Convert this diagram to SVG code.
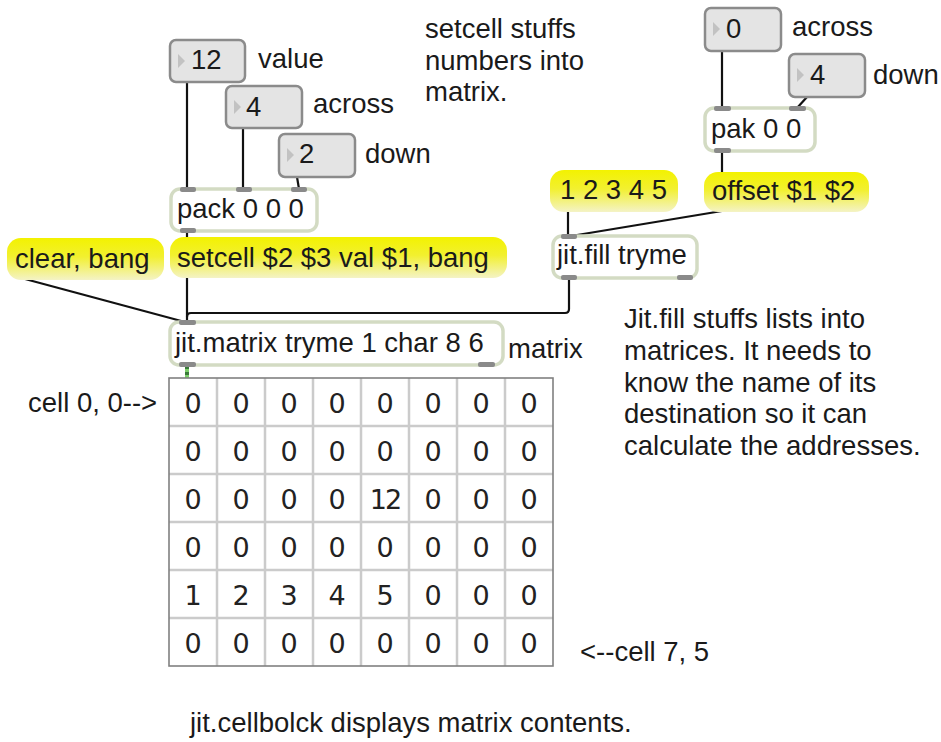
<svg xmlns="http://www.w3.org/2000/svg" width="941" height="742" viewBox="0 0 941 742">
  <defs>
    <linearGradient id="msgFill" x1="0" y1="0" x2="0" y2="1">
      <stop offset="0" stop-color="#f3f200"/>
      <stop offset="0.45" stop-color="#f2f030"/>
      <stop offset="1" stop-color="#f4f3c6"/>
    </linearGradient>
    <pattern id="jitCable" width="4" height="6" patternUnits="userSpaceOnUse">
      <rect width="4" height="6" fill="#3a7a3a"/>
      <rect y="3" width="4" height="3" fill="#7ccf6a"/>
    </pattern>
  </defs>
  <style>
    text { font-family: "Liberation Sans", Arial, sans-serif; font-size: 27.5px; fill: #1a1a1a; }
    .obj { fill: #ffffff; stroke: #d3dbc3; stroke-width: 3.5; }
    .num { fill: #e4e4e4; stroke: #8b8b8b; stroke-width: 2.5; }
    .tri { fill: #c2c2c2; }
    .msg { fill: url(#msgFill); }
    .tab { fill: #8a8a8a; }
    .cord { fill: none; stroke: #111111; stroke-width: 2.2; }
    .grid { stroke: #cbcbcb; stroke-width: 2.5; }
    .cell { font-family: "DejaVu Sans", Verdana, sans-serif; font-size: 27px; fill: #222222; text-anchor: middle; }
  </style>

  <rect width="941" height="742" fill="#ffffff"/>

  <!-- patch cords -->
  <g id="connectors">
    <line class="cord" x1="187" y1="82" x2="187" y2="189"/>
    <line class="cord" x1="243" y1="128" x2="243" y2="189"/>
    <line class="cord" x1="297" y1="177" x2="299" y2="189"/>
    <line class="cord" x1="187" y1="231" x2="187" y2="238"/>
    <line class="cord" x1="187" y1="277" x2="187" y2="323"/>
    <line class="cord" x1="25" y1="279" x2="185" y2="322"/>
    <path class="cord" d="M569 278 V309 Q569 313 565 313 H191 Q187 313 187 317"/>
    <line class="cord" x1="722" y1="51" x2="722" y2="108"/>
    <line class="cord" x1="807" y1="97" x2="797" y2="108"/>
    <line class="cord" x1="722" y1="151" x2="722" y2="173"/>
    <line class="cord" x1="568" y1="212" x2="568" y2="236"/>
    <line class="cord" x1="722" y1="211" x2="571" y2="236"/>
    <rect x="185" y="365" width="4" height="13" fill="url(#jitCable)"/>
  </g>

  <!-- number boxes, left column -->
  <g id="num-value">
    <rect class="num" x="170" y="40" width="75" height="42" rx="6"/>
    <polygon class="tri" points="178,54 185,61 178,68"/>
    <text x="191" y="69">12</text>
  </g>
  <g id="num-across">
    <rect class="num" x="226" y="86" width="76" height="42" rx="6"/>
    <polygon class="tri" points="234,100 241,107 234,114"/>
    <text x="246" y="116">4</text>
  </g>
  <g id="num-down">
    <rect class="num" x="279" y="134" width="76" height="43" rx="6"/>
    <polygon class="tri" points="287,148 294,155 287,162"/>
    <text x="299" y="163">2</text>
  </g>

  <!-- number boxes, right column -->
  <g id="num-offset-x">
    <rect class="num" x="705" y="8" width="76" height="43" rx="6"/>
    <polygon class="tri" points="713,22 720,29 713,36"/>
    <text x="726" y="38">0</text>
  </g>
  <g id="num-offset-y">
    <rect class="num" x="789" y="54" width="76" height="43" rx="6"/>
    <polygon class="tri" points="797,68 804,75 797,82"/>
    <text x="810" y="84">4</text>
  </g>

  <!-- pack 0 0 0 -->
  <g id="pack">
    <rect class="obj" x="171" y="189" width="146" height="42" rx="9"/>
    <rect class="tab" x="180" y="187" width="16" height="5" rx="2"/>
    <rect class="tab" x="236" y="187" width="16" height="5" rx="2"/>
    <rect class="tab" x="291" y="187" width="16" height="5" rx="2"/>
    <rect class="tab" x="180" y="228" width="16" height="5" rx="2"/>
    <text x="177" y="218">pack 0 0 0</text>
  </g>

  <!-- pak 0 0 -->
  <g id="pak">
    <rect class="obj" x="705" y="108" width="110" height="43" rx="9"/>
    <rect class="tab" x="714" y="106" width="17" height="5" rx="2"/>
    <rect class="tab" x="789" y="106" width="17" height="5" rx="2"/>
    <rect class="tab" x="714" y="148" width="17" height="5" rx="2"/>
    <text x="711" y="138">pak 0 0</text>
  </g>

  <!-- message boxes -->
  <g id="msg-clear">
    <rect class="msg" x="7" y="238" width="157" height="42" rx="14"/>
    <text x="15" y="268">clear, bang</text>
  </g>
  <g id="msg-setcell">
    <rect class="msg" x="170" y="237" width="337" height="41" rx="14"/>
    <text x="177" y="267">setcell $2 $3 val $1, bang</text>
  </g>
  <g id="msg-list">
    <rect class="msg" x="550" y="170" width="128" height="42" rx="14"/>
    <text x="560" y="199">1 2 3 4 5</text>
  </g>
  <g id="msg-offset">
    <rect class="msg" x="704" y="172" width="165" height="40" rx="14"/>
    <text x="712" y="200">offset $1 $2</text>
  </g>

  <!-- jit.fill tryme -->
  <g id="jit-fill">
    <rect class="obj" x="553" y="236" width="144" height="42" rx="9"/>
    <rect class="tab" x="561" y="234" width="16" height="5" rx="2"/>
    <rect class="tab" x="561" y="275" width="16" height="5" rx="2"/>
    <rect class="tab" x="677" y="275" width="16" height="5" rx="2"/>
    <text x="557" y="264">jit.fill tryme</text>
  </g>

  <!-- jit.matrix tryme 1 char 8 6 -->
  <g id="jit-matrix">
    <rect class="obj" x="170" y="322" width="333" height="43" rx="9"/>
    <rect class="tab" x="179" y="320" width="17" height="5" rx="2"/>
    <rect class="tab" x="179" y="362" width="17" height="5" rx="2"/>
    <rect class="tab" x="478" y="362" width="17" height="5" rx="2"/>
    <text x="175" y="352">jit.matrix tryme 1 char 8 6</text>
  </g>

  <!-- jit.cellblock: 8 columns x 6 rows -->
  <g id="cellblock">
    <rect x="169" y="378" width="384" height="288" fill="#ffffff"/>
    <g class="grid">
      <line x1="217" y1="378" x2="217" y2="666"/>
      <line x1="265" y1="378" x2="265" y2="666"/>
      <line x1="313" y1="378" x2="313" y2="666"/>
      <line x1="361" y1="378" x2="361" y2="666"/>
      <line x1="409" y1="378" x2="409" y2="666"/>
      <line x1="457" y1="378" x2="457" y2="666"/>
      <line x1="505" y1="378" x2="505" y2="666"/>
      <line x1="169" y1="426" x2="553" y2="426"/>
      <line x1="169" y1="474" x2="553" y2="474"/>
      <line x1="169" y1="522" x2="553" y2="522"/>
      <line x1="169" y1="570" x2="553" y2="570"/>
      <line x1="169" y1="618" x2="553" y2="618"/>
    </g>
    <rect x="169" y="378" width="384" height="288" fill="none" stroke="#808080" stroke-width="1.6"/>
    <g>
      <text class="cell" x="193" y="413">0</text><text class="cell" x="241" y="413">0</text><text class="cell" x="289" y="413">0</text><text class="cell" x="337" y="413">0</text><text class="cell" x="385" y="413">0</text><text class="cell" x="433" y="413">0</text><text class="cell" x="481" y="413">0</text><text class="cell" x="529" y="413">0</text>
      <text class="cell" x="193" y="461">0</text><text class="cell" x="241" y="461">0</text><text class="cell" x="289" y="461">0</text><text class="cell" x="337" y="461">0</text><text class="cell" x="385" y="461">0</text><text class="cell" x="433" y="461">0</text><text class="cell" x="481" y="461">0</text><text class="cell" x="529" y="461">0</text>
      <text class="cell" x="193" y="509">0</text><text class="cell" x="241" y="509">0</text><text class="cell" x="289" y="509">0</text><text class="cell" x="337" y="509">0</text><text class="cell" x="385" y="509" letter-spacing="-2">12</text><text class="cell" x="433" y="509">0</text><text class="cell" x="481" y="509">0</text><text class="cell" x="529" y="509">0</text>
      <text class="cell" x="193" y="557">0</text><text class="cell" x="241" y="557">0</text><text class="cell" x="289" y="557">0</text><text class="cell" x="337" y="557">0</text><text class="cell" x="385" y="557">0</text><text class="cell" x="433" y="557">0</text><text class="cell" x="481" y="557">0</text><text class="cell" x="529" y="557">0</text>
      <text class="cell" x="193" y="605">1</text><text class="cell" x="241" y="605">2</text><text class="cell" x="289" y="605">3</text><text class="cell" x="337" y="605">4</text><text class="cell" x="385" y="605">5</text><text class="cell" x="433" y="605">0</text><text class="cell" x="481" y="605">0</text><text class="cell" x="529" y="605">0</text>
      <text class="cell" x="193" y="653">0</text><text class="cell" x="241" y="653">0</text><text class="cell" x="289" y="653">0</text><text class="cell" x="337" y="653">0</text><text class="cell" x="385" y="653">0</text><text class="cell" x="433" y="653">0</text><text class="cell" x="481" y="653">0</text><text class="cell" x="529" y="653">0</text>
    </g>
  </g>

  <!-- comments -->
  <g id="comments">
    <text x="258" y="68">value</text>
    <text x="313" y="113">across</text>
    <text x="365" y="163">down</text>
    <text x="792" y="36">across</text>
    <text x="873" y="84">down</text>
    <text x="425" y="38">setcell stuffs</text>
    <text x="425" y="70">numbers into</text>
    <text x="425" y="101">matrix.</text>
    <text x="508" y="358">matrix</text>
    <text x="624" y="328">Jit.fill stuffs lists into</text>
    <text x="624" y="360">matrices. It needs to</text>
    <text x="624" y="392">know the name of its</text>
    <text x="624" y="423">destination so it can</text>
    <text x="624" y="455">calculate the addresses.</text>
    <text x="28" y="412">cell 0, 0--&gt;</text>
    <text x="580" y="661">&lt;--cell 7, 5</text>
    <text x="190" y="732">jit.cellbolck displays matrix contents.</text>
  </g>
</svg>
